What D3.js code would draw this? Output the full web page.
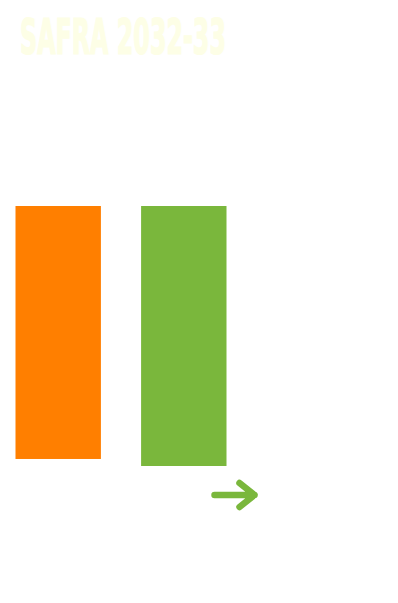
<!DOCTYPE html>
<html>
<head>
<meta charset="utf-8">
<script src="https://cdn.jsdelivr.net/npm/d3@7"></script>
<style>
  body { margin: 0; background: #fff; }
  svg { display: block; }
</style>
</head>
<body>
<div id="target"></div>
<script>
var width = 398,
    height = 603;

// safra values (relative), bars hang down from a common top
var categories = ['anterior', '2032-33'];
var values = [97.3, 100];
var colors = ['#ff7f00', '#7ab73c'];
var title = 'SAFRA 2032-33';

var svg = d3.select('#target').append('svg')
    .attr('width', width)
    .attr('height', height);

var xScale = d3.scaleBand()
    .domain(categories)
    .range([15.5, 226.5])
    .paddingInner(0.32)
    .paddingOuter(0);

var yScale = d3.scaleLinear()
    .domain([0, 100])
    .range([206, 466]);

// condensed heavy title: squeeze a bold face horizontally
var t = svg.append('text')
    .attr('x', 0)
    .attr('y', 0)
    .style('font-family', '"DejaVu Sans Condensed", "Liberation Sans Narrow", sans-serif')
    .style('font-weight', 'bold')
    .style('font-size', '50px')
    .style('fill', '#fdfee6')
    .style('stroke', '#fdfee6')
    .style('stroke-width', 1.2)
    .text(title);
var tw = t.node().getComputedTextLength();
t.attr('transform', 'translate(20,54) scale(' + (206 / tw) + ',1)');

svg.selectAll('rect.bar')
    .data(values)
    .enter()
    .append('rect')
    .attr('class', 'bar')
    .attr('x', function (d, i) {
        return xScale(categories[i]);
    })
    .attr('y', yScale(0))
    .attr('width', xScale.bandwidth())
    .attr('height', function (d) {
        return yScale(d) - yScale(0);
    })
    .style('fill', function (d, i) {
        return colors[i];
    });

// arrow under the last bar
var ax = xScale(categories[1]) + xScale.bandwidth();
var ay = yScale(100) + 29;
svg.append('path')
    .attr('d', 'M' + (ax - 12) + ',' + ay + 'H' + (ax + 28)
        + 'M' + (ax + 13) + ',' + (ay - 12) + 'L' + (ax + 28) + ',' + ay
        + 'L' + (ax + 13) + ',' + (ay + 12))
    .style('fill', 'none')
    .style('stroke', colors[1])
    .style('stroke-width', 6.5)
    .style('stroke-linecap', 'round')
    .style('stroke-linejoin', 'round');
</script>
</body>
</html>
